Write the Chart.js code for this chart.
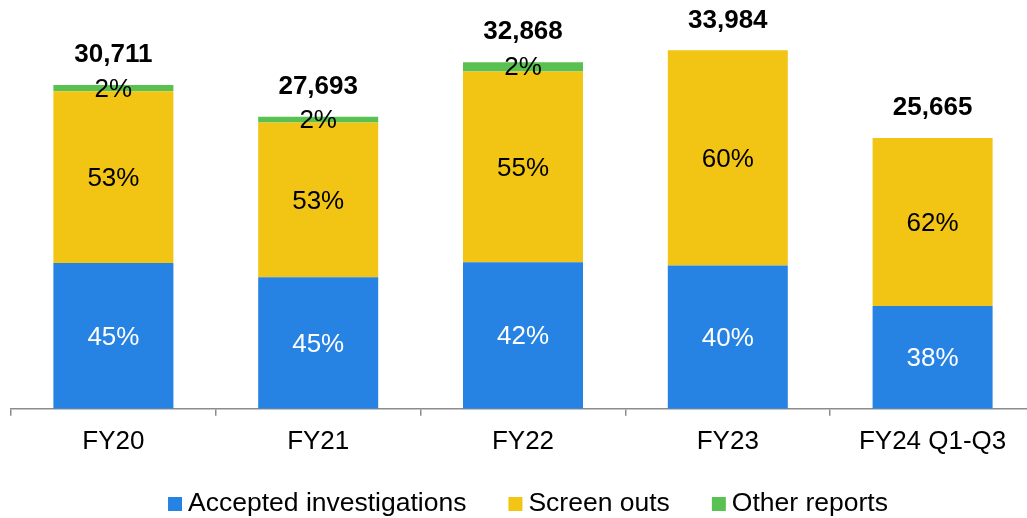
<!DOCTYPE html>
<html>
<head>
<meta charset="utf-8">
<script src="https://cdn.jsdelivr.net/npm/chart.js@4.4.1/dist/chart.umd.min.js"></script>
<style>
  html, body { margin: 0; padding: 0; background: #fff; overflow: hidden; }
  #wrap { width: 1040px; height: 518px; }
</style>
</head>
<body>
<div id="wrap"><canvas id="c" width="1040" height="518"></canvas></div>
<script>
const categories = ['FY20', 'FY21', 'FY22', 'FY23', 'FY24 Q1-Q3'];
const totals = [30711, 27693, 32868, 33984, 25665];
const accepted = [13820, 12462, 13890, 13594, 9753];
const screenOuts = [16277, 14677, 18100, 20390, 15912];
const otherReports = [614, 554, 878, 0, 0];
const acceptedPct = ['45%', '45%', '42%', '40%', '38%'];
const screenOutsPct = ['53%', '53%', '55%', '60%', '62%'];
const otherPct = ['2%', '2%', '2%', '', ''];
const seriesNames = ['Accepted investigations', 'Screen outs', 'Other reports'];
const seriesColors = ['#2683E4', '#F2C413', '#59C152'];

const FONT = "'Liberation Sans', Arial, sans-serif";
const pctLabels = [acceptedPct, screenOutsPct, otherPct];
const pctColors = ['#ffffff', '#000000', '#000000'];

const labelPlugin = {
  id: 'barLabels',
  afterDatasetsDraw(chart) {
    const ctx = chart.ctx;
    ctx.save();
    ctx.textAlign = 'center';
    ctx.textBaseline = 'middle';
    ctx.font = '26px ' + FONT;
    chart.data.datasets.forEach((ds, di) => {
      const meta = chart.getDatasetMeta(di);
      meta.data.forEach((bar, i) => {
        const txt = pctLabels[di][i];
        if (!txt || !ds.data[i]) return;
        ctx.fillStyle = pctColors[di];
        ctx.fillText(txt, bar.x, (bar.y + bar.base) / 2 + 1.5);
      });
    });
    const lastMeta = chart.getDatasetMeta(chart.data.datasets.length - 1);
    ctx.font = 'bold 26px ' + FONT;
    ctx.fillStyle = '#000';
    lastMeta.data.forEach((bar, i) => {
      ctx.fillText(totals[i].toLocaleString('en-US'), bar.x, bar.y - 30);
    });
    ctx.restore();
  }
};

const legendPlugin = {
  id: 'customLegend',
  afterDraw(chart) {
    const ctx = chart.ctx;
    ctx.save();
    ctx.font = '26.5px ' + FONT;
    ctx.textBaseline = 'middle';
    ctx.textAlign = 'left';
    const box = 14, gap = 6, spacing = 42;
    const widths = chart.data.datasets.map(ds => box + gap + ctx.measureText(ds.label).width);
    const total = widths.reduce((a, b) => a + b, 0) + spacing * (widths.length - 1);
    let x = (chart.chartArea.left + chart.chartArea.right) / 2 + 5 - total / 2;
    const yc = 504;
    chart.data.datasets.forEach((ds, i) => {
      ctx.fillStyle = ds.backgroundColor;
      ctx.fillRect(x, yc - box / 2, box, box);
      ctx.fillStyle = '#000';
      ctx.fillText(ds.label, x + box + gap, yc);
      x += widths[i] + spacing;
    });
    ctx.restore();
  }
};

const seriesData = [accepted, screenOuts, otherReports];

new Chart(document.getElementById('c'), {
  type: 'bar',
  data: {
    labels: categories,
    datasets: seriesData.map((d, i) => ({
      label: seriesNames[i],
      data: d,
      backgroundColor: seriesColors[i],
      borderWidth: 0,
      barPercentage: 0.586,
      categoryPercentage: 1.0
    }))
  },
  options: {
    responsive: false,
    animation: false,
    layout: { padding: { left: 11, right: 5, top: 8, bottom: 51 } },
    plugins: {
      legend: { display: false },
      tooltip: { enabled: false }
    },
    scales: {
      x: {
        stacked: true,
        grid: {
          display: true,
          offset: true,
          drawOnChartArea: false,
          drawTicks: true,
          tickLength: 7,
          color: '#8c8c8c',
          lineWidth: 1.5
        },
        border: { display: true, color: '#8c8c8c', width: 1.5 },
        ticks: {
          color: '#000',
          font: { family: FONT, size: 26 },
          padding: 10,
          maxRotation: 0,
          autoSkip: false
        }
      },
      y: {
        stacked: true,
        display: false,
        min: 0,
        max: 38000
      }
    }
  },
  plugins: [labelPlugin, legendPlugin]
});
</script>
</body>
</html>
